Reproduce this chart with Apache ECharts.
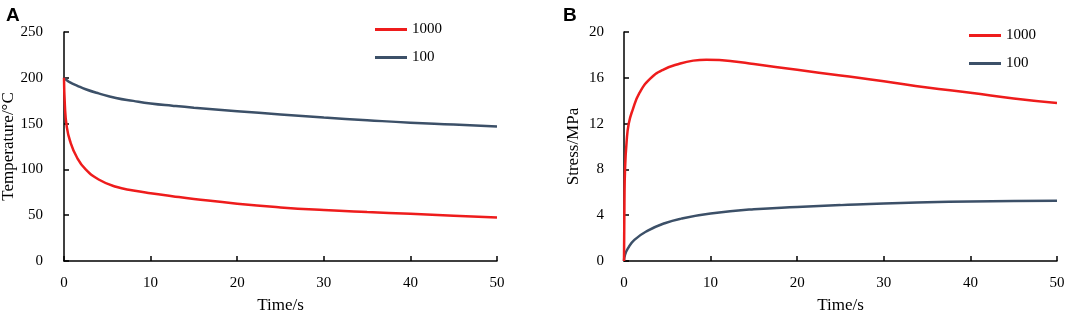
<!DOCTYPE html>
<html lang="en">
<head>
    <meta charset="UTF-8">
    <title>Temperature and stress</title>
    <style>
        html, body { margin: 0; padding: 0; background: #fff; }
        #container { width: 1065px; height: 310px; }
    </style>
</head>
<body>
    <div id="container"></div>
    <script src="https://cdn.jsdelivr.net/npm/echarts@6/dist/echarts.min.js"></script>
    <script>
        var ec = echarts.init(document.querySelector('#container'));

        // Panel A: temperature (°C) vs time (s)
        var tempTime = [0, 0.1, 0.3, 0.7, 1.5, 2.5, 4, 6, 8, 10, 12.5, 15, 20, 25, 30, 35, 40, 45, 50];
        var temp1000 = [200, 170, 148, 131, 113, 100, 89, 81, 77, 74, 70.8, 67.8, 62.5, 58.5, 55.6, 53.4, 51.5, 49.5, 47.6];
        var temp100 = [200, 199, 197.5, 195, 191.5, 187.5, 183, 178, 174.8, 172, 169.5, 167.3, 163.5, 160, 156.6, 153.7, 151, 149, 146.8];

        // Panel B: stress (MPa) vs time (s)
        var stressTime1000 = [0, 0.05, 0.12, 0.3, 0.55, 1, 1.8, 3, 4.5, 6.5, 8, 9.5, 11, 12.5, 15, 20, 25, 30, 35, 40, 45, 50];
        var stress1000 = [0, 5, 8, 10.4, 12, 13.2, 14.7, 15.9, 16.7, 17.25, 17.5, 17.58, 17.55, 17.45, 17.2, 16.7, 16.2, 15.7, 15.15, 14.7, 14.2, 13.8];
        var stressTime100 = [0, 0.1, 0.45, 1.2, 2.75, 4.7, 6.6, 10, 15, 20, 25, 30, 35, 40, 45, 50];
        var stress100 = [0, 0.5, 1.1, 1.85, 2.65, 3.3, 3.7, 4.14, 4.52, 4.72, 4.88, 5.03, 5.13, 5.2, 5.23, 5.26];

        var seriesNames = ['1000', '100'];
        var seriesColors = ['#ee1c1c', '#3c5068'];

        function pairs(xs, ys) {
            return xs.map(function (x, i) { return [x, ys[i]]; });
        }

        var font = 'Liberation Serif';
        var axisLine = { show: true, lineStyle: { color: '#000', width: 1.5 } };
        var axisTick = { show: true, inside: true, length: 5, lineStyle: { color: '#000', width: 1.5 } };

        function xAxis(idx) {
            return {
                type: 'value', gridIndex: idx, min: 0, max: 50, interval: 10,
                name: 'Time/s', nameLocation: 'middle', nameGap: 36,
                nameTextStyle: { fontFamily: font, fontSize: 17, color: '#000' },
                axisLine: axisLine, axisTick: axisTick, splitLine: { show: false },
                axisLabel: { fontFamily: font, fontSize: 15, color: '#000', margin: 15 }
            };
        }

        function yAxis(idx, max, interval, name, gap, margin) {
            return {
                type: 'value', gridIndex: idx, min: 0, max: max, interval: interval,
                name: name, nameLocation: 'middle', nameGap: gap, nameRotate: 90,
                nameTextStyle: { fontFamily: font, fontSize: 17, color: '#000' },
                axisLine: axisLine, axisTick: axisTick, splitLine: { show: false },
                axisLabel: { fontFamily: font, fontSize: 15, color: '#000', margin: margin }
            };
        }

        function line(name, color, idx, data) {
            return {
                name: name, type: 'line', xAxisIndex: idx, yAxisIndex: idx,
                data: data, smooth: 0.5, showSymbol: false, symbol: 'none',
                lineStyle: { color: color, width: 2.5 }, itemStyle: { color: color },
                z: name === '1000' ? 3 : 2
            };
        }

        function legend(left, top) {
            return {
                orient: 'vertical', left: left, top: top, padding: 0,
                data: seriesNames, icon: 'rect', itemWidth: 32, itemHeight: 3, itemGap: 13,
                textStyle: { fontFamily: font, fontSize: 15, color: '#000' },
                selectedMode: false
            };
        }

        var option = {
            backgroundColor: '#fff',
            animation: false,
            title: [
                { text: 'A', left: 1, top: 1, textStyle: { fontFamily: 'Liberation Sans', fontWeight: 'bold', fontSize: 19, color: '#000' } },
                { text: 'B', left: 558, top: 1, textStyle: { fontFamily: 'Liberation Sans', fontWeight: 'bold', fontSize: 19, color: '#000' } }
            ],
            legend: [legend(375, 22), legend(969, 28)],
            grid: [
                { left: 64, right: 568, top: 32, bottom: 49, outerBoundsMode: 'none' },
                { left: 624, right: 8, top: 32, bottom: 49, outerBoundsMode: 'none' }
            ],
            xAxis: [xAxis(0), xAxis(1)],
            yAxis: [
                yAxis(0, 250, 50, 'Temperature/\u00b0C', 45, 21),
                yAxis(1, 20, 4, 'Stress/MPa', 42, 20)
            ],
            series: [
                line(seriesNames[0], seriesColors[0], 0, pairs(tempTime, temp1000)),
                line(seriesNames[1], seriesColors[1], 0, pairs(tempTime, temp100)),
                line(seriesNames[0], seriesColors[0], 1, pairs(stressTime1000, stress1000)),
                line(seriesNames[1], seriesColors[1], 1, pairs(stressTime100, stress100))
            ]
        };
        ec.setOption(option);
    </script>
</body>
</html>
